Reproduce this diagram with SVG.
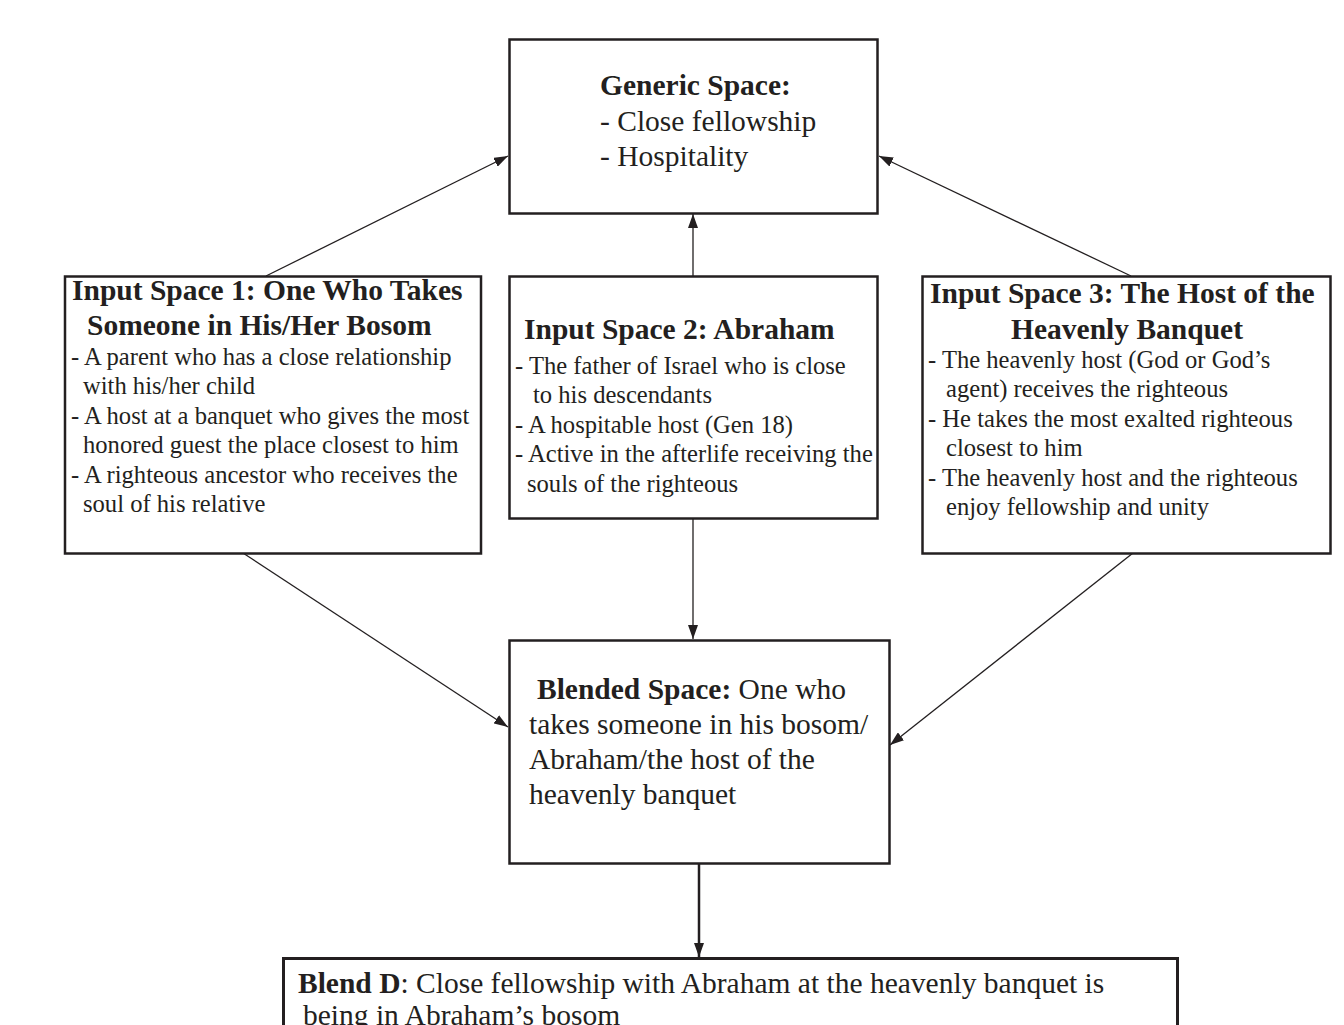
<svg xmlns="http://www.w3.org/2000/svg" width="1344" height="1025" viewBox="0 0 1344 1025">
<defs>
<marker id="ah" viewBox="0 0 14 10" refX="14" refY="5" markerWidth="14" markerHeight="10" markerUnits="userSpaceOnUse" orient="auto">
<path d="M0,0 L14,5 L0,10 z" fill="#231f20"/>
</marker>
</defs>
<style>
.box{fill:#fff;stroke:#231f20;stroke-width:2.5}
.t{font-family:"Liberation Serif","Times New Roman",serif;fill:#231f20}
.big{font-size:29.5px}
.sm{font-size:24.6px}
.b{font-weight:bold}
.c{stroke:#231f20;stroke-width:1.3;fill:none}
</style>
<rect width="1344" height="1025" fill="#fff"/>
<g id="connectors">
<line class="c" x1="266" y1="276" x2="508" y2="156" marker-end="url(#ah)"/>
<line class="c" x1="1131" y1="276" x2="879" y2="156" marker-end="url(#ah)"/>
<line class="c" x1="693" y1="276" x2="693" y2="214" marker-end="url(#ah)"/>
<line class="c" x1="243" y1="553" x2="508" y2="727" marker-end="url(#ah)"/>
<line class="c" x1="693" y1="519" x2="693" y2="639" marker-end="url(#ah)"/>
<line class="c" x1="1133" y1="553" x2="890" y2="745" marker-end="url(#ah)"/>
<line class="c" style="stroke-width:2.5" x1="699" y1="864" x2="699" y2="957" marker-end="url(#ah)"/>
</g>
<g id="generic">
<rect class="box" x="509.5" y="39.5" width="368" height="174"/>
<text class="t big b" x="600" y="95">Generic Space:</text>
<text class="t big" x="600" y="131">- Close fellowship</text>
<text class="t big" x="600" y="166">- Hospitality</text>
</g>
<g id="input1">
<rect class="box" x="65" y="276.5" width="416" height="277"/>
<text class="t big b" x="72" y="300">Input Space 1: One Who Takes</text>
<text class="t big b" x="87" y="335">Someone in His/Her Bosom</text>
<text class="t sm" x="71" y="365">- A parent who has a close relationship</text>
<text class="t sm" x="83" y="394">with his/her child</text>
<text class="t sm" x="71" y="424">- A host at a banquet who gives the most</text>
<text class="t sm" x="83" y="453">honored guest the place closest to him</text>
<text class="t sm" x="71" y="483">- A righteous ancestor who receives the</text>
<text class="t sm" x="83" y="512">soul of his relative</text>
</g>
<g id="input2">
<rect class="box" x="509.5" y="276.5" width="368" height="242"/>
<text class="t big b" x="524" y="339">Input Space 2: Abraham</text>
<text class="t sm" x="515" y="374">- The father of Israel who is close</text>
<text class="t sm" x="533" y="403">to his descendants</text>
<text class="t sm" x="515" y="433">- A hospitable host (Gen 18)</text>
<text class="t sm" x="515" y="462">- Active in the afterlife receiving the</text>
<text class="t sm" x="527" y="492">souls of the righteous</text>
</g>
<g id="input3">
<rect class="box" x="922.5" y="276.5" width="408" height="277"/>
<text class="t big b" x="930" y="303">Input Space 3: The Host of the</text>
<text class="t big b" x="1127" y="339" text-anchor="middle">Heavenly Banquet</text>
<text class="t sm" x="928" y="368">- The heavenly host (God or God’s</text>
<text class="t sm" x="946" y="397">agent) receives the righteous</text>
<text class="t sm" x="928" y="427">- He takes the most exalted righteous</text>
<text class="t sm" x="946" y="456">closest to him</text>
<text class="t sm" x="928" y="486">- The heavenly host and the righteous</text>
<text class="t sm" x="946" y="515">enjoy fellowship and unity</text>
</g>
<g id="blended">
<rect class="box" x="509.5" y="640.5" width="380" height="223"/>
<text class="t big" x="537" y="699"><tspan class="b">Blended Space:</tspan> One who</text>
<text class="t big" x="529" y="734">takes someone in his bosom/</text>
<text class="t big" x="529" y="769">Abraham/the host of the</text>
<text class="t big" x="529" y="804">heavenly banquet</text>
</g>
<g id="blendD">
<rect class="box" style="stroke-width:3" x="283.5" y="958.5" width="894" height="100"/>
<text class="t big" x="298" y="993"><tspan class="b">Blend D</tspan>: Close fellowship with Abraham at the heavenly banquet is</text>
<text class="t big" x="303" y="1025">being in Abraham’s bosom</text>
</g>
</svg>
